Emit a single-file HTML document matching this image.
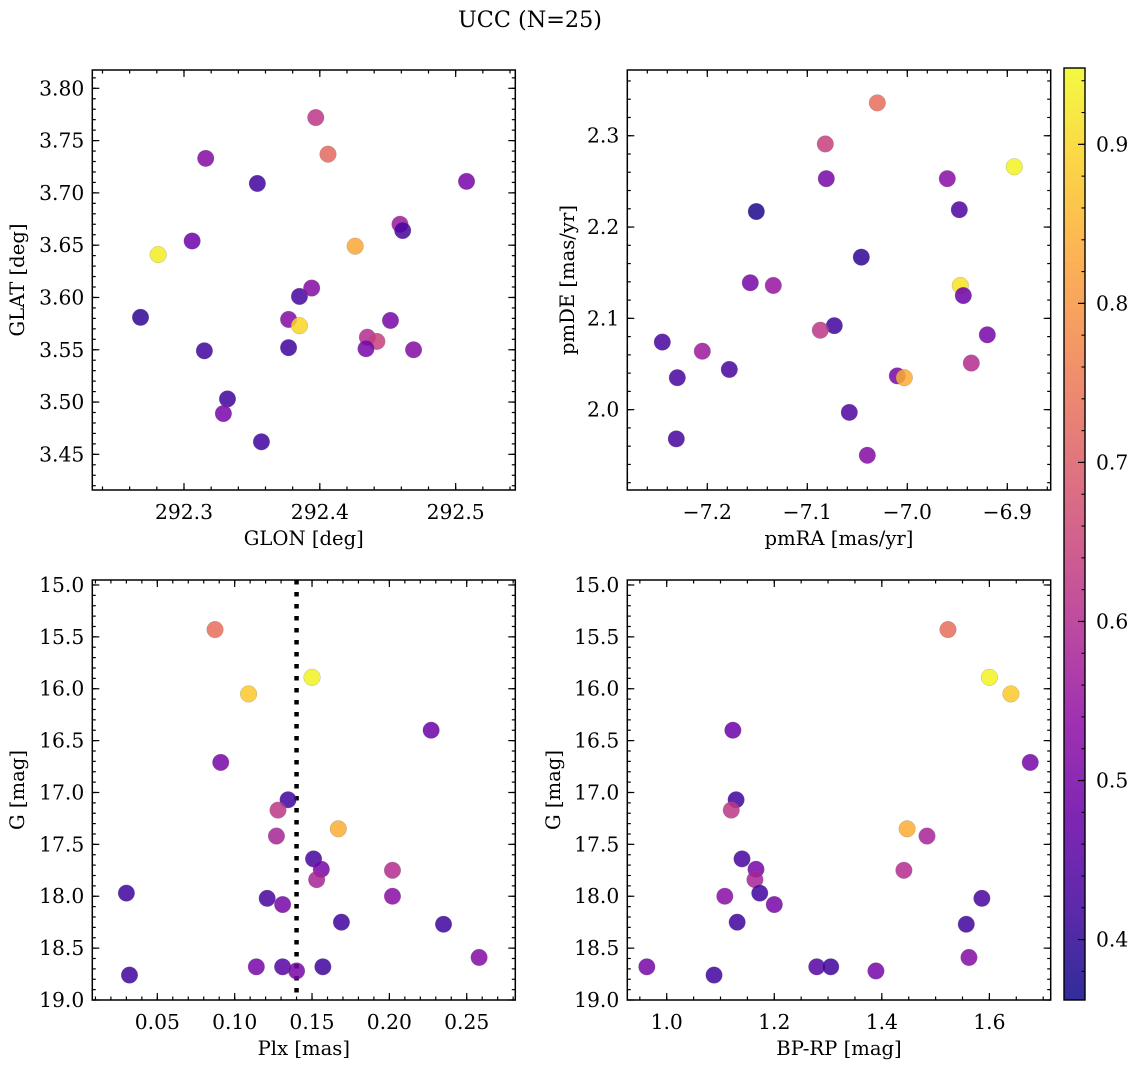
<!DOCTYPE html>
<html><head><meta charset="utf-8">
<style>
html,body{margin:0;padding:0;background:#fff;}
svg{display:block;font-family:"DejaVu Serif","Liberation Serif",serif;}
</style></head>
<body>
<svg id="fig" width="1136" height="1068" viewBox="0 0 1136 1068" xmlns="http://www.w3.org/2000/svg">
<text x="530" y="27" font-size="22.3" text-anchor="middle">UCC (N=25)</text>
</svg>
<script>
// ---- Data ----
const glon = [292.397,292.406,292.316,292.354,292.508,292.281,292.306,292.426,292.459,292.461,292.268,292.385,292.394,292.377,292.385,292.315,292.377,292.452,292.435,292.442,292.434,292.469,292.332,292.329,292.357];
const glat = [3.772,3.737,3.733,3.709,3.711,3.641,3.654,3.649,3.670,3.664,3.581,3.601,3.609,3.579,3.573,3.549,3.552,3.578,3.562,3.558,3.551,3.550,3.503,3.489,3.462];
const probPos = [0.62,0.72,0.52,0.42,0.50,0.93,0.48,0.83,0.56,0.43,0.40,0.43,0.52,0.52,0.90,0.42,0.42,0.50,0.60,0.64,0.50,0.52,0.42,0.50,0.42];

const pmra = [-7.030,-7.082,-6.893,-7.081,-6.960,-7.151,-6.948,-7.046,-7.157,-7.134,-6.947,-6.944,-7.073,-7.087,-6.920,-7.245,-7.205,-6.936,-7.178,-7.230,-7.010,-7.003,-7.058,-7.231,-7.040];
const pmde = [2.336,2.291,2.266,2.253,2.253,2.217,2.219,2.167,2.139,2.136,2.136,2.125,2.092,2.087,2.082,2.074,2.064,2.051,2.044,2.035,2.037,2.035,1.997,1.968,1.950];
const probPm = [0.73,0.64,0.94,0.50,0.53,0.38,0.44,0.40,0.50,0.55,0.92,0.48,0.42,0.62,0.50,0.43,0.56,0.60,0.43,0.43,0.50,0.84,0.44,0.43,0.52];

const gmag = [15.43,15.89,16.05,16.40,16.71,17.07,17.17,17.35,17.42,17.64,17.74,17.75,17.84,17.97,18.00,18.02,18.08,18.25,18.27,18.59,18.68,18.68,18.68,18.72,18.76];
const plx = [0.0873,0.150,0.109,0.227,0.091,0.1345,0.128,0.167,0.127,0.151,0.156,0.202,0.153,0.030,0.202,0.121,0.131,0.169,0.235,0.258,0.114,0.131,0.157,0.140,0.032];
const bprp = [1.523,1.600,1.640,1.123,1.676,1.129,1.120,1.447,1.484,1.140,1.166,1.441,1.164,1.173,1.108,1.586,1.200,1.131,1.557,1.562,0.963,1.279,1.305,1.389,1.088];
const probPhot = [0.73,0.94,0.88,0.48,0.50,0.42,0.62,0.84,0.58,0.43,0.50,0.60,0.58,0.42,0.53,0.43,0.50,0.42,0.42,0.52,0.50,0.45,0.42,0.50,0.42];
const plxLine = 0.14;

const cbTicks = [0.4,0.5,0.6,0.7,0.8,0.9];
const vmin = 0.362, vmax = 0.948;

// ---- Helpers ----
const NS = "http://www.w3.org/2000/svg";
const fig = document.getElementById('fig');
function mk(tag, attrs, parent){const e=document.createElementNS(NS,tag);for(const k in attrs)e.setAttribute(k,attrs[k]);(parent||fig).appendChild(e);return e;}
const plasma=[[13,8,135],[65,4,157],[106,0,168],[143,13,164],[177,42,144],[204,71,120],[225,100,98],[242,132,75],[252,166,54],[252,206,37],[240,249,33]];
function cmap(v){let t=(v-vmin)/(vmax-vmin);t=Math.max(0,Math.min(1,t))*10;const i=Math.min(9,Math.floor(t)),f=t-i;const a=plasma[i],b=plasma[i+1];return `rgb(${Math.round(a[0]+(b[0]-a[0])*f)},${Math.round(a[1]+(b[1]-a[1])*f)},${Math.round(a[2]+(b[2]-a[2])*f)})`;}
const FS=20.3, LFS=19.6;

function panel(o){
  const g=mk('g',{});
  
  
  const sx=v=>o.L+(v-o.x0)/(o.x1-o.x0)*(o.R-o.L);
  const sy=v=>o.inv? o.T+(v-o.y0)/(o.y1-o.y0)*(o.B-o.T) : o.B-(v-o.y0)/(o.y1-o.y0)*(o.B-o.T);
  const eps=1e-9;
  function ticksX(step,len,major){
    const start=Math.ceil(Math.min(o.x0,o.x1)/step-eps)*step;
    for(let v=start;v<=Math.max(o.x0,o.x1)+eps;v+=step){
      const x=sx(v);if(x<o.L-0.5||x>o.R+0.5)continue;
      mk('line',{x1:x,x2:x,y1:o.B,y2:o.B-len,stroke:'#000','stroke-width':1.2},g);
      mk('line',{x1:x,x2:x,y1:o.T,y2:o.T+len,stroke:'#000','stroke-width':1.2},g);
      if(major){const t=mk('text',{x:x,y:o.B+29,'font-size':FS,'text-anchor':'middle'},g);t.textContent=o.fx(v);
        }
    }
  }
  function ticksY(step,len,major){
    const lo=Math.min(o.y0,o.y1),hi=Math.max(o.y0,o.y1);
    const start=Math.ceil(lo/step-eps)*step;
    for(let v=start;v<=hi+eps;v+=step){
      const y=sy(v);if(y<o.T-0.5||y>o.B+0.5)continue;
      mk('line',{x1:o.L,x2:o.L+len,y1:y,y2:y,stroke:'#000','stroke-width':1.2},g);
      mk('line',{x1:o.R,x2:o.R-len,y1:y,y2:y,stroke:'#000','stroke-width':1.2},g);
      if(major){const t=mk('text',{x:o.L-8,y:y+7,'font-size':FS,'text-anchor':'end'},g);t.textContent=o.fy(v);
        }
    }
  }
  ticksX(o.xmin,3.5,false);ticksX(o.xmaj,7,true);
  ticksY(o.ymin,3.5,false);ticksY(o.ymaj,7,true);
  if(o.vline!==undefined){
    const l=mk('line',{x1:sx(o.vline),x2:sx(o.vline),y1:o.T,y2:o.B,stroke:'#000','stroke-width':4.5,'stroke-dasharray':'4.5 7.5'},g);
    
  }
  for(let i=0;i<o.xs.length;i++){
    const c=mk('circle',{cx:sx(o.xs[i]),cy:sy(o.ys[i]),r:8.3,fill:cmap(o.cs[i]),'fill-opacity':0.85,stroke:'#777','stroke-width':0.4,'stroke-opacity':0.6},g);
    
    
  }
  const fr=mk('rect',{x:o.L,y:o.T,width:o.R-o.L,height:o.B-o.T,fill:'none',stroke:'#000','stroke-width':1.5},g);
  
  const xl=mk('text',{x:(o.L+o.R)/2,y:o.B+55,'font-size':LFS,'text-anchor':'middle'},g);xl.textContent=o.xlabel;
  
  const yx=o.ylx, yy=(o.T+o.B)/2;
  const yl=mk('text',{x:yx,y:yy,'font-size':LFS,'text-anchor':'middle',transform:`rotate(-90 ${yx} ${yy})`},g);yl.textContent=o.ylabel;
  
}
const f2=v=>v.toFixed(2), f1=v=>v.toFixed(1);
const fm=v=>(v<0?'\u2212':'')+Math.abs(v).toFixed(1);

panel({name:'panel-glon-glat',L:92.3,R:515.3,T:70,B:490,x0:292.2325,x1:292.5439,y0:3.4159,y1:3.8175,
  xmaj:0.1,xmin:0.02,ymaj:0.05,ymin:0.01,fx:f1,fy:f2,xs:glon,ys:glat,cs:probPos,xlabel:'GLON [deg]',ylabel:'GLAT [deg]',ylx:24});
panel({name:'panel-pmra-pmde',L:627.3,R:1050.7,T:70,B:490,x0:-7.28,x1:-6.8566,y0:1.912,y1:2.372,
  xmaj:0.1,xmin:0.02,ymaj:0.1,ymin:0.02,fx:fm,fy:f1,xs:pmra,ys:pmde,cs:probPm,xlabel:'pmRA [mas/yr]',ylabel:'pmDE [mas/yr]',ylx:574});
panel({name:'panel-plx-g',L:92.3,R:515.3,T:580,B:1000,x0:0.00797,x1:0.2814,y0:14.952,y1:19.0,inv:true,
  xmaj:0.05,xmin:0.01,ymaj:0.5,ymin:0.1,fx:f2,fy:f1,xs:plx,ys:gmag,cs:probPhot,vline:plxLine,xlabel:'Plx [mas]',ylabel:'G [mag]',ylx:24});
panel({name:'panel-bprp-g',L:627.3,R:1050.7,T:580,B:1000,x0:0.9267,x1:1.714,y0:14.952,y1:19.0,inv:true,
  xmaj:0.2,xmin:0.05,ymaj:0.5,ymin:0.1,fx:f1,fy:f1,xs:bprp,ys:gmag,cs:probPhot,xlabel:'BP-RP [mag]',ylabel:'G [mag]',ylx:560});

// ---- Colorbar ----
const cb={L:1064,R:1085,T:68,B:1000};
const defs=mk('defs',{});
const grad=mk('linearGradient',{id:'plasmaGrad',x1:0,y1:1,x2:0,y2:0},defs);
for(let i=0;i<=10;i++){mk('stop',{offset:i/10,'stop-color':`rgb(${plasma[i].join(',')})`},grad);}
const cbg=mk('g',{});


mk('rect',{x:cb.L,y:cb.T,width:cb.R-cb.L,height:cb.B-cb.T,fill:'url(#plasmaGrad)','fill-opacity':0.85},cbg);
const cy=v=>cb.B-(v-vmin)/(vmax-vmin)*(cb.B-cb.T);
for(let v=0.38;v<vmax;v+=0.02){const y=cy(v);mk('line',{x1:cb.R,x2:cb.R-3.5,y1:y,y2:y,stroke:'#000','stroke-width':1.1},cbg);}
cbTicks.forEach(v=>{const y=cy(v);mk('line',{x1:cb.R,x2:cb.R-7,y1:y,y2:y,stroke:'#000','stroke-width':1.2},cbg);
  const t=mk('text',{x:cb.R+11,y:y+7,'font-size':FS},cbg);t.textContent=v.toFixed(1);
  });
mk('rect',{x:cb.L,y:cb.T,width:cb.R-cb.L,height:cb.B-cb.T,fill:'none',stroke:'#000','stroke-width':1.4},cbg);
</script>
</body></html>
